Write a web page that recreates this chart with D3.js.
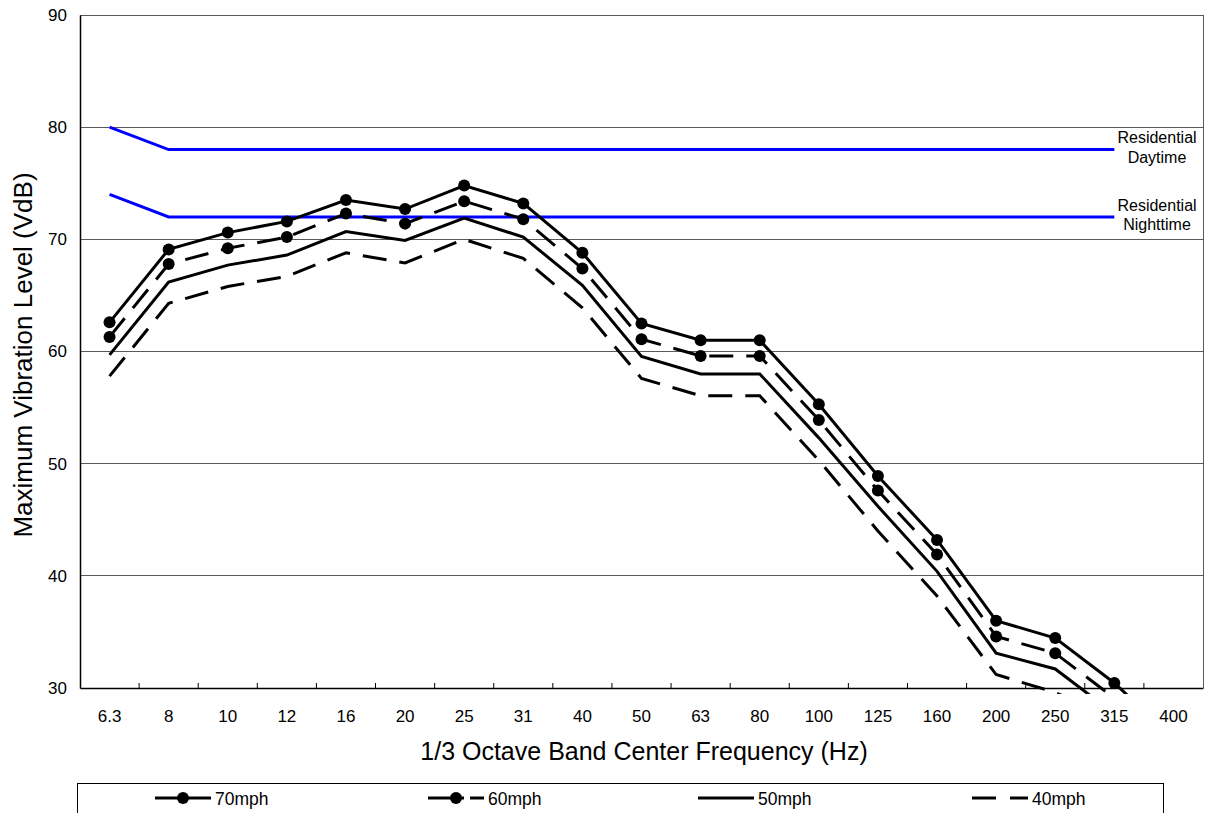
<!DOCTYPE html>
<html>
<head>
<meta charset="utf-8">
<script src="https://cdn.jsdelivr.net/npm/d3@7"></script>
<style>
  html, body { margin: 0; padding: 0; background: #fff; }
  svg { display: block; font-family: "Liberation Sans", Arial, sans-serif; }
</style>
</head>
<body>
<svg id="chart" width="1205" height="813"></svg>
<script>
const freqs = ["6.3","8","10","12","16","20","25","31","40","50","63","80","100","125","160","200","250","315","400"];
const mph70 = [62.6,69.1,70.6,71.6,73.5,72.7,74.8,73.2,68.8,62.5,61.0,61.0,55.3,48.9,43.2,36.0,34.45,30.45,25.5];
const mph60 = [61.3,67.8,69.2,70.2,72.3,71.4,73.4,71.8,67.4,61.1,59.6,59.6,53.9,47.6,41.9,34.6,33.1,29.1,24.5];
const mph50 = [59.7,66.2,67.7,68.6,70.7,69.9,71.9,70.2,65.9,59.55,58.0,58.0,52.3,46.2,40.4,33.1,31.7,27.7,23.0];
const mph40 = [57.8,64.3,65.8,66.7,68.8,67.9,70.0,68.3,63.9,57.6,56.05,56.05,50.3,44.0,38.2,31.2,29.6,27.2,22.0];
const daytime   = [80,78,78,78,78,78,78,78,78,78,78,78,78,78,78,78,78,78,null];
const nighttime = [74,72,72,72,72,72,72,72,72,72,72,72,72,72,72,72,72,72,null];
const yTicks = [30,40,50,60,70,80,90];
const seriesNames = ["70mph","60mph","50mph","40mph"];

const svg = d3.select("#chart");
const L = 80, R = 1203, T = 15, B = 688;

const x = d3.scaleBand().domain(freqs).range([L, R]).paddingInner(0).paddingOuter(0);
const y = d3.scaleLinear().domain([30, 90]).range([B, T]);
const cx = f => x(f) + x.bandwidth() / 2;

// clip
svg.append("defs").append("clipPath").attr("id", "clip")
  .append("rect").attr("x", L).attr("y", T).attr("width", R - L).attr("height", B - T + 6);

// gridlines
svg.append("g").selectAll("line").data(yTicks.filter(d => d > 30)).join("line")
  .attr("x1", L).attr("x2", R)
  .attr("y1", d => y(d)).attr("y2", d => y(d))
  .attr("stroke", "#5a5a5a").attr("stroke-width", 1).attr("shape-rendering", "crispEdges");

// right border
svg.append("line").attr("x1", R).attr("x2", R).attr("y1", T).attr("y2", B)
  .attr("stroke", "#5a5a5a").attr("stroke-width", 1).attr("shape-rendering", "crispEdges");

// y axis
const yAxis = d3.axisLeft(y).tickValues(yTicks).tickSize(0).tickPadding(13);
const gy = svg.append("g").attr("transform", `translate(${L},0)`).call(yAxis);
gy.select(".domain").attr("stroke", "#000").attr("stroke-width", 1.5);
gy.selectAll("text").attr("font-size", 17).attr("fill", "#000")
  .attr("font-family", "Liberation Sans, Arial, sans-serif");

// x axis
const xAxis = d3.axisBottom(x).tickSize(0).tickPadding(22);
const gx = svg.append("g").attr("transform", `translate(0,${B})`).call(xAxis);
gx.select(".domain").attr("stroke", "#000").attr("stroke-width", 1.5);
gx.selectAll("text").attr("font-size", 17).attr("fill", "#000")
  .attr("font-family", "Liberation Sans, Arial, sans-serif");
// inside ticks at band boundaries
svg.append("g").selectAll("line").data(freqs.slice(1)).join("line")
  .attr("x1", d => x(d)).attr("x2", d => x(d))
  .attr("y1", B).attr("y2", B - 5)
  .attr("stroke", "#000").attr("stroke-width", 1);

// axis titles
svg.append("text").attr("x", 644).attr("y", 760).attr("text-anchor", "middle")
  .attr("font-size", 25).text("1/3 Octave Band Center Frequency (Hz)");
svg.append("text").attr("transform", `translate(32,355) rotate(-90)`)
  .attr("text-anchor", "middle").attr("font-size", 26).text("Maximum Vibration Level (VdB)");

const plot = svg.append("g").attr("clip-path", "url(#clip)");
const line = d3.line().defined(d => d.v != null).x(d => cx(d.f)).y(d => y(d.v));
const toPts = arr => arr.map((v, i) => ({ f: freqs[i], v }));

// criteria lines
[daytime, nighttime].forEach(arr => {
  plot.append("path").datum(toPts(arr)).attr("d", line)
    .attr("fill", "none").attr("stroke", "#0000ff").attr("stroke-width", 3);
});

const dash = "24,13";
const defs = [
  { data: mph70, dash: null, dots: true },
  { data: mph60, dash: dash, dots: true },
  { data: mph50, dash: null, dots: false },
  { data: mph40, dash: dash, dots: false }
];
defs.forEach(s => {
  plot.append("path").datum(toPts(s.data)).attr("d", line)
    .attr("fill", "none").attr("stroke", "#000").attr("stroke-width", 3)
    .attr("stroke-dasharray", s.dash);
  if (s.dots) {
    plot.append("g").selectAll("circle").data(toPts(s.data).filter(d => d.v >= 30)).join("circle")
      .attr("cx", d => cx(d.f)).attr("cy", d => y(d.v)).attr("r", 6).attr("fill", "#000");
  }
});

// criteria labels
const lab = svg.append("g").attr("font-size", 16).attr("text-anchor", "middle");
lab.append("text").attr("x", 1157).attr("y", 143).text("Residential");
lab.append("text").attr("x", 1157).attr("y", 163).text("Daytime");
lab.append("text").attr("x", 1157).attr("y", 211).text("Residential");
lab.append("text").attr("x", 1157).attr("y", 230).text("Nighttime");

// legend
svg.append("rect").attr("x", 77.5).attr("y", 783.5).attr("width", 1086).attr("height", 40)
  .attr("fill", "#fff").attr("stroke", "#000").attr("stroke-width", 1);
const legItems = [
  { name: seriesNames[0], x0: 155, dash: null, dot: true },
  { name: seriesNames[1], x0: 428, dash: "36,6,14", dot: true },
  { name: seriesNames[2], x0: 698, dash: null, dot: false },
  { name: seriesNames[3], x0: 972, dash: "24,14,18", dot: false }
];
const ly = 798;
legItems.forEach(it => {
  svg.append("line").attr("x1", it.x0).attr("x2", it.x0 + 56).attr("y1", ly).attr("y2", ly)
    .attr("stroke", "#000").attr("stroke-width", 3).attr("stroke-dasharray", it.dash);
  if (it.dot) svg.append("circle").attr("cx", it.x0 + 28).attr("cy", ly).attr("r", 6).attr("fill", "#000");
  svg.append("text").attr("x", it.x0 + 60).attr("y", ly + 7).attr("font-size", 17.5).text(it.name);
});
</script>
</body>
</html>
